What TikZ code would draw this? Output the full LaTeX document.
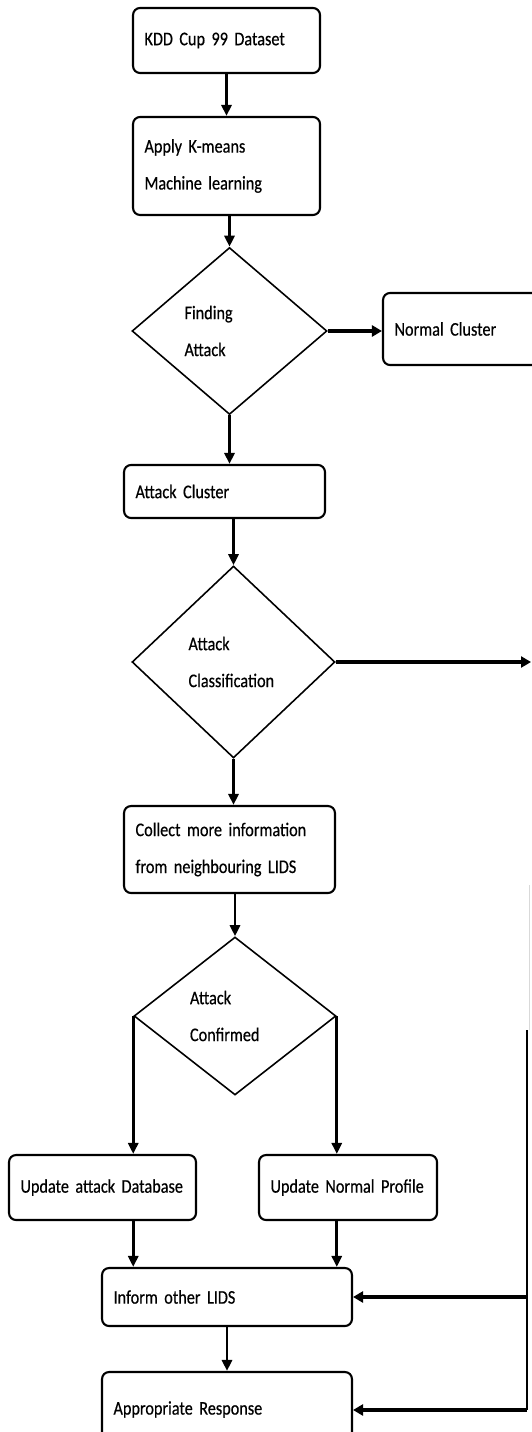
\documentclass[tikz,border=0pt]{standalone}
\usepackage{fontspec}
\setmainfont[FakeStretch=0.84, FakeBold=0.5]{Carlito}
\usetikzlibrary{shapes.geometric, positioning, arrows.meta}
\newcommand{\flowfont}{\fontsize{11}{13}\selectfont\spaceskip=2pt\relax}

\begin{document}
\begin{tikzpicture}[x=0.02cm, y=-0.02cm,
	font=\flowfont,
	box/.style={draw=black, line width=1.2pt, rounded corners=4pt, align=left, inner xsep=0.23cm},
	decision/.style={diamond, draw=black, line width=0.9pt, aspect=1.2, inner sep=0pt, align=left, text width=1.8cm},
	flow/.style={line width=1.6pt, -{Triangle[length=2.2mm, width=2mm]}},
	bigflow/.style={line width=2.4pt, -{Triangle[length=2mm, width=2.2mm]}}]
	
	% frame
	\useasboundingbox (0,0) rectangle (531,1432);
	
	% boxes
	\node[box, minimum width=3.74cm, minimum height=1.3cm, text width=3.28cm] (kdd) at (226.5,40.5) {KDD Cup 99 Dataset};
	\node[box, minimum width=3.74cm, minimum height=1.96cm, text width=3.28cm] (apply) at (226.5,166) {Apply K-means\\[8pt]Machine learning};
	\node[box, minimum width=3.54cm, minimum height=1.44cm, text width=3.08cm] (normal) at (471.5,329) {Normal Cluster};
	\node[box, minimum width=4.02cm, minimum height=1.06cm, text width=3.56cm] (attcluster) at (224.5,491.5) {Attack Cluster};
	\node[box, minimum width=4.22cm, minimum height=1.74cm, text width=3.76cm] (collect) at (229.5,849.5) {Collect more information\\[8pt]from neighbouring LIDS};
	\node[box, minimum width=3.74cm, minimum height=1.3cm, text width=3.28cm] (upattack) at (102.5,1187.5) {Update attack Database};
	\node[box, minimum width=3.56cm, minimum height=1.3cm, text width=3.1cm] (upnormal) at (348,1187.5) {Update Normal Profile};
	\node[box, minimum width=5cm, minimum height=1.16cm, text width=4.54cm] (inform) at (227,1297) {Inform other LIDS};
	\node[box, minimum width=5cm, minimum height=1.5cm, text width=4.54cm] (response) at (227,1409.5) {Appropriate Response};
	
	% decisions
	\node[decision, minimum width=3.9cm, minimum height=3.34cm] (finding) at (229.5,331) {Finding\\[8pt]Attack};
	\node[decision, minimum width=4.06cm, minimum height=3.84cm] (classify) at (233.5,662) {Attack\\[8pt]Classification\\[22pt]};
	\node[decision, minimum width=4.04cm, minimum height=3.16cm] (confirm) at (235,1016) {Attack\\[8pt]Confirmed\\[22pt]};
	
	% side line
	\coordinate (classend) at (531,662);
	\coordinate (sidefaint) at (529,885);
	\coordinate (sidetop) at (527,1030);
	\coordinate (sidebot) at (527,1410);
	
	% connectors
	\draw[flow] (kdd.south -| apply.north) -- (apply.north);
	\draw[flow] (apply.south -| finding.north) -- (finding.north);
	\draw[bigflow] (finding.east) -- (finding.east -| normal.west);
	\draw[flow] (finding.south) -- (finding.south |- attcluster.north);
	\draw[flow] (attcluster.south -| classify.north) -- (classify.north);
	\draw[bigflow] (classify.east) -- (classend);
	\draw[flow] (classify.south) -- (classify.south |- collect.north);
	\draw[flow] (collect.south -| confirm.north) -- (confirm.north);
	\draw[flow] (confirm.west) -- (confirm.west |- upattack.north);
	\draw[flow] (confirm.east) -- (confirm.east |- upnormal.north);
	\draw[flow] (upattack.south -| confirm.west) -- (confirm.west |- inform.north);
	\draw[flow] (upnormal.south -| confirm.east) -- (confirm.east |- inform.north);
	\draw[flow] (inform.south) -- (inform.south |- response.north);
	\draw[black!15, line width=0.5pt] (sidefaint) -- (sidefaint |- sidetop);
	\draw[line width=1.6pt] (sidetop) -- (sidebot);
	\draw[bigflow] (inform.east -| sidetop) -- (inform.east);
	\draw[bigflow] (sidebot) -- (sidebot -| response.east);
	
\end{tikzpicture}
\end{document}
